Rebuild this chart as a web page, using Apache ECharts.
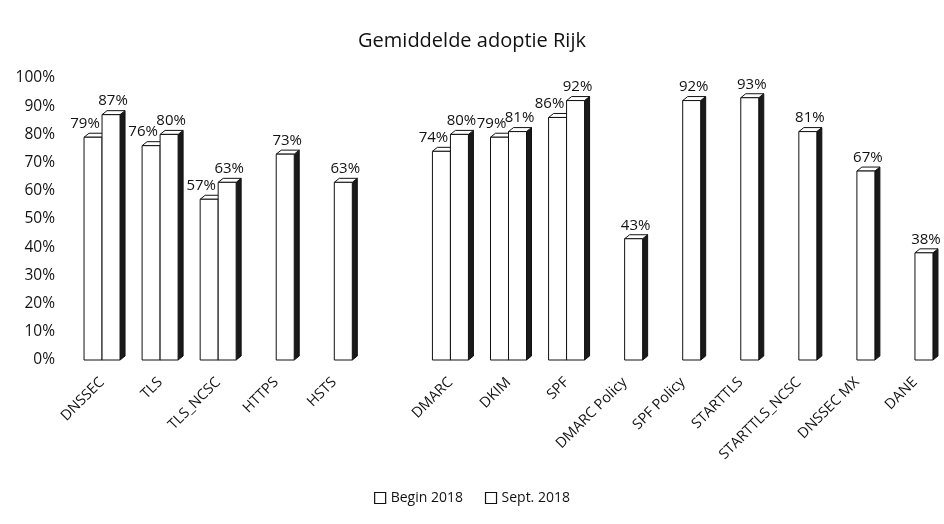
<!DOCTYPE html>
<html lang="nl">
<head>
  <meta charset="UTF-8">
  <title>Gemiddelde adoptie Rijk</title>
  <script src="https://cdn.jsdelivr.net/npm/echarts@6/dist/echarts.min.js"></script>
  <style>
    html, body { margin: 0; padding: 0; background: #fff; }
  </style>
</head>
<body>
<div id="main" style="width: 944px;height:524px;"></div>
<script type="text/javascript">
  // categorieen (lege categorie = witruimte tussen web en mail)
  var categories = ['DNSSEC', 'TLS', 'TLS_NCSC', 'HTTPS', 'HSTS', '', 'DMARC', 'DKIM', 'SPF',
    'DMARC Policy', 'SPF Policy', 'STARTTLS', 'STARTTLS_NCSC', 'DNSSEC MX', 'DANE'];
  var begin2018 = [79, 76, 57, null, null, null, 74, 79, 86, null, null, null, null, null, null];
  var sept2018 = [87, 80, 63, 73, 63, null, 80, 81, 92, 43, 92, 93, 81, 67, 38];
  var yTicks = [0, 10, 20, 30, 40, 50, 60, 70, 80, 90, 100];

  var myChart = echarts.init(document.getElementById('main'));
  var font = 'Open Sans';

  // [categorie-index, waarde] paren voor de custom series
  function toPairs(arr) {
    return arr.map(function (v, i) { return [i, v == null ? '-' : v]; });
  }

  // 3D-achtige staaf: voorkant, bovenkant en donkere zijkant
  function bar3d(side, labelDx) {
    return function (params, api) {
      var val = api.value(1);
      if (val == null || isNaN(val)) return null;
      var idx = api.value(0);
      var base = api.coord([idx, 0]);
      var top = api.coord([idx, val]);
      var w = 18, dx = 5, dy = 4;
      var x = side === 0 ? base[0] - w : base[0];
      var y0 = base[1], y1 = top[1];
      var line = { stroke: '#111', lineWidth: 1 };
      return {
        type: 'group',
        children: [
          { type: 'polygon', shape: { points: [[x + w, y1], [x + w + dx, y1 - dy], [x + w + dx, y0 - dy], [x + w, y0]] },
            style: { fill: '#1a1a1a', stroke: '#111', lineWidth: 1 } },
          { type: 'polygon', shape: { points: [[x, y1], [x + dx, y1 - dy], [x + w + dx, y1 - dy], [x + w, y1]] },
            style: Object.assign({ fill: '#fff' }, line) },
          { type: 'rect', shape: { x: x, y: y1, width: w, height: y0 - y1 },
            style: Object.assign({ fill: '#fff' }, line) },
          { type: 'text', x: x + w / 2 + labelDx, y: y1 - dy - 2,
            style: { text: val + '%', fill: '#111', font: '15px "' + font + '"', align: 'center', verticalAlign: 'bottom' } }
        ]
      };
    };
  }

  var option = {
    animation: false,
    textStyle: { fontFamily: font },
    title: {
      text: 'Gemiddelde adoptie Rijk',
      left: 'center',
      top: 26,
      textStyle: { fontFamily: font, fontSize: 20, fontWeight: 'normal', color: '#111' }
    },
    legend: {
      bottom: 14,
      left: 'center',
      itemWidth: 11,
      itemHeight: 11,
      itemGap: 22,
      icon: 'rect',
      textStyle: { fontFamily: font, fontSize: 14, color: '#111' },
      data: [
        { name: 'Begin 2018', itemStyle: { color: '#fff', borderColor: '#111', borderWidth: 1.2 } },
        { name: 'Sept. 2018', itemStyle: { color: '#fff', borderColor: '#111', borderWidth: 1.2 } }
      ]
    },
    grid: { left: 73, right: -3, top: 78, bottom: 164, containLabel: false },
    xAxis: {
      type: 'category',
      data: categories,
      axisLine: { show: false },
      axisTick: { show: false },
      axisLabel: { interval: 0, rotate: 45, fontSize: 14.5, color: '#111', margin: 20, fontFamily: font }
    },
    yAxis: {
      type: 'value',
      min: yTicks[0],
      max: yTicks[yTicks.length - 1],
      interval: 10,
      splitLine: { show: false },
      axisLine: { show: false },
      axisTick: { show: false },
      axisLabel: { formatter: '{value}%', fontSize: 15.5, color: '#111', margin: 18, fontFamily: font }
    },
    series: [
      {
        name: 'Begin 2018',
        type: 'custom',
        renderItem: bar3d(0, -8),
        itemStyle: { color: '#fff', borderColor: '#111' },
        encode: { x: 0, y: 1 },
        clip: false,
        data: toPairs(begin2018)
      },
      {
        name: 'Sept. 2018',
        type: 'custom',
        renderItem: bar3d(1, 2),
        itemStyle: { color: '#fff', borderColor: '#111' },
        encode: { x: 0, y: 1 },
        clip: false,
        data: toPairs(sept2018)
      }
    ]
  };
  myChart.setOption(option);
</script>
</body>
</html>
